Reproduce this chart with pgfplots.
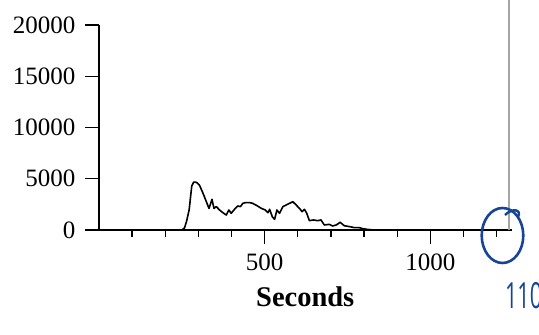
\documentclass[border=0pt]{standalone}
\usepackage{pgfplots}
\pgfplotsset{compat=1.18}
\usepackage{fontspec}
\setmainfont{Liberation Serif}
\newfontfamily\handfont{Open Sans}
\definecolor{penblue}{RGB}{22,68,150}
\definecolor{linegray}{RGB}{165,165,165}
\begin{document}
\begin{tikzpicture}[x=1pt,y=1pt]
\useasboundingbox (0,0) rectangle (539,335);
\begin{axis}[
  at={(99pt,105pt)}, anchor=south west,
  scale only axis, width=412.5pt, height=205pt,
  xmin=0, xmax=1245, ymin=0, ymax=20000,
  axis lines*=left,
  axis line style={line width=1.3pt,-},
  xtick={500,1000},
  minor xtick={100,200,300,400,600,700,800,900,1100,1200},
  ytick={0,5000,10000,15000,20000},
  tick align=outside,
  major tick length=14pt, minor tick length=6.5pt,
  every tick/.style={line width=1.3pt,black},
  scaled y ticks=false,
  /pgf/number format/1000 sep={},
  /pgf/number format/assume math mode=true,
  tick label style={font=\fontsize{25}{25}\selectfont},
  yticklabel style={xshift=-6pt},
  xticklabel style={yshift=-6pt},
  xlabel={Seconds},
  xlabel style={font=\fontsize{28.5}{29}\selectfont\bfseries,
    at={(axis description cs:0.5,0)}, anchor=base, yshift=-77pt},
  clip=false,
]
\addplot[black, line width=1.6pt, mark=none, line join=round] coordinates {
(0,0) (250,0) (258,200) (264,810) (272,1950) (280,4300) (286,4680) (294,4650)
(303,4390) (314,3580) (324,2760) (332,2110) (341,2990) (347,2110) (354,2280)
(364,1950) (374,1690) (384,1460) (392,1950) (399,1630) (409,2020) (419,2340)
(427,2280) (434,2600) (442,2670) (455,2670) (464,2600) (477,2370) (490,2110)
(502,1950) (510,1690) (515,2020) (523,1300) (530,1040) (537,1950) (545,1630)
(555,2280) (565,2440) (575,2600) (585,2760) (595,2440) (605,2110) (613,1790)
(620,2020) (627,1630) (635,910) (647,980) (660,910) (670,980) (680,490)
(695,550) (705,390) (716,490) (728,750) (740,420) (756,330) (771,230)
(786,230) (796,130) (810,60) (830,0) (1240,0)
};
\draw[linegray, line width=1.3pt] (axis cs:1237,0) -- (axis cs:1237,22440);
\end{axis}
\draw[penblue, line width=2.6pt] (502.5,99.5) ellipse (20.8 and 27.5);
\draw[penblue, line width=2.4pt] (505,120) .. controls (512,127) and (522,126) .. (518,118);
\node[penblue, anchor=west, inner sep=0pt, xscale=0.6, font=\handfont\fontsize{36}{36}\selectfont] at (505,39) {110};
\end{tikzpicture}
\end{document}
